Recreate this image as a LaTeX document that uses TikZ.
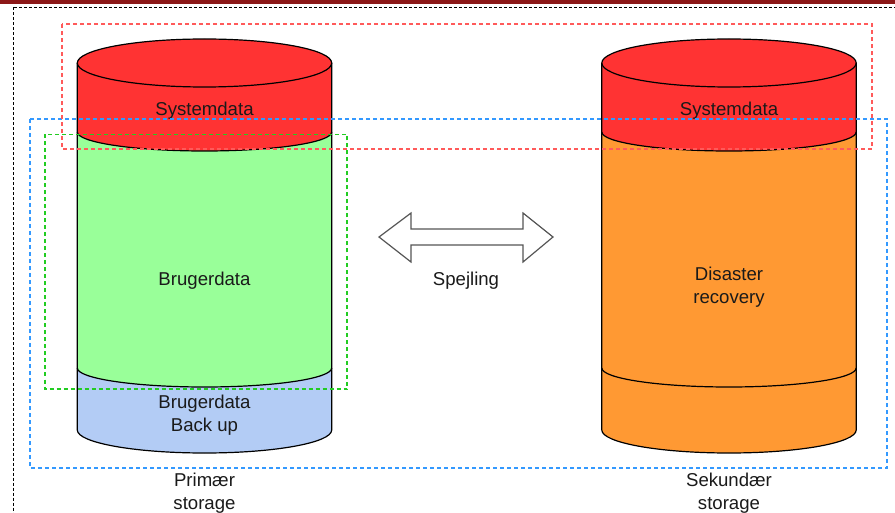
\documentclass[tikz,border=0pt]{standalone}
\usepackage{fontspec}
\setmainfont{Liberation Sans}
\definecolor{cred}{HTML}{FF3333}
\definecolor{cgreen}{HTML}{99FF99}
\definecolor{cblue}{HTML}{B3CCF5}
\definecolor{corange}{HTML}{FF9933}
\definecolor{dred}{HTML}{FF5A5A}
\definecolor{dblue}{HTML}{3399FF}
\definecolor{dgreen}{HTML}{22CC22}
\definecolor{topbar}{HTML}{8C1818}
\definecolor{txt}{HTML}{1A1A1A}
\definecolor{arrowgray}{HTML}{555555}
\tikzset{
  lbl/.style={font=\fontsize{18.6}{23.5}\selectfont, text=txt, align=center, inner sep=0pt},
  outline/.style={draw=black, line width=1.2pt},
  dashbox/.style={line width=1.2pt, dash pattern=on 4pt off 3pt},
  blockarrow/.style={draw=arrowgray, fill=white, line width=1.2pt, line join=miter}
}
\begin{document}
\begin{tikzpicture}[x=1pt,y=1pt,yscale=-1]
\useasboundingbox (0,0) rectangle (895,513);
\clip (0,0) rectangle (895,513);
\fill[white] (0,0) rectangle (895,513);
% top bar
\fill[topbar] (0,0) rectangle (895,4);
% outer black dashed border
\draw[black, line width=1.3pt, dash pattern=on 3pt off 2pt] (13.5,7.5) rectangle (930,540);

% ---------- left cylinder ----------
\def\rx{127.2}
% red segment
\fill[cred] (77.3,63) -- (77.3,132) arc[start angle=180,end angle=0,x radius=\rx,y radius=19]
  -- (331.7,63) arc[start angle=0,end angle=-180,x radius=\rx,y radius=24] -- cycle;
% green segment
\fill[cgreen] (77.3,132) arc[start angle=180,end angle=0,x radius=\rx,y radius=19]
  -- (331.7,368) arc[start angle=0,end angle=180,x radius=\rx,y radius=19] -- cycle;
% blue segment
\fill[cblue] (77.3,368) arc[start angle=180,end angle=0,x radius=\rx,y radius=19]
  -- (331.7,430) arc[start angle=0,end angle=180,x radius=\rx,y radius=23] -- cycle;
% outlines
\draw[outline] (204.5,63) ellipse[x radius=\rx,y radius=24];
\draw[outline] (77.3,63) -- (77.3,430) arc[start angle=180,end angle=0,x radius=\rx,y radius=23] -- (331.7,63);
\draw[outline] (77.3,132) arc[start angle=180,end angle=0,x radius=\rx,y radius=19];
\draw[outline] (77.3,368) arc[start angle=180,end angle=0,x radius=\rx,y radius=19];

% ---------- right cylinder ----------
\fill[cred] (601.8,63) -- (601.8,132) arc[start angle=180,end angle=0,x radius=\rx,y radius=19]
  -- (856.2,63) arc[start angle=0,end angle=-180,x radius=\rx,y radius=24] -- cycle;
\fill[corange] (601.8,132) arc[start angle=180,end angle=0,x radius=\rx,y radius=19]
  -- (856.2,430) arc[start angle=0,end angle=180,x radius=\rx,y radius=23] -- cycle;
\draw[outline] (729,63) ellipse[x radius=\rx,y radius=24];
\draw[outline] (601.8,63) -- (601.8,430) arc[start angle=180,end angle=0,x radius=\rx,y radius=23] -- (856.2,63);
\draw[outline] (601.8,132) arc[start angle=180,end angle=0,x radius=\rx,y radius=19];
\draw[outline] (601.8,368) arc[start angle=180,end angle=0,x radius=\rx,y radius=19];

% ---------- texts ----------
\node[lbl] (sysL) at (204.5,110.5) {Systemdata};
\node[lbl] (sysR) at (729,110.5) {Systemdata};
\node[lbl] (brug) at (204.5,280.5) {Brugerdata};
\node[lbl] (backup) at (204.5,415) {Brugerdata\\Back up};
\node[lbl] (disaster) at (729,287) {Disaster\\recovery};
\node[lbl] (prim) at (204.5,493) {Primær\\storage};
\node[lbl] (sek) at (729,493) {Sekundær\\storage};

% ---------- dashed boxes ----------
\draw[dashbox, draw=dblue] (30,119) rectangle (887,468);
\draw[dashbox, draw=dgreen] (45,134.5) rectangle (347,389);
\draw[dashbox, draw=dred] (62,24) rectangle (872,149);

% ---------- double block arrow ----------
\draw[blockarrow] (379,237) -- (411,213) -- (411,229) -- (523,229) -- (523,213) -- (553,237)
  -- (523,262) -- (523,245) -- (411,245) -- (411,262) -- cycle;
\node[lbl] (spej) at (466,280.5) {Spejling};
\end{tikzpicture}
\end{document}
